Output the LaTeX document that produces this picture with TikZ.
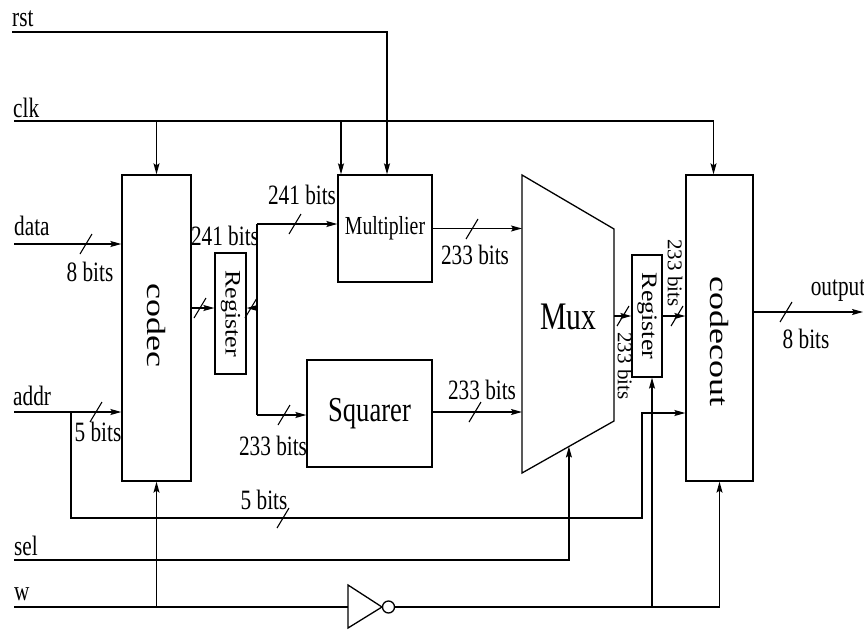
\documentclass[tikz,border=0pt]{standalone}
\usepackage{fontspec}
\setmainfont{Liberation Serif}[FakeStretch=0.76]
\newfontfamily\uprightserif{Liberation Serif}
\usetikzlibrary{arrows.meta, positioning}

% vertical text, squeezed across its lines
\newcommand{\vlabel}[2]{\rotatebox{-90}{\scalebox{1}[#1]{#2}}}
\newcommand{\bustick}[2]{\draw[busmark] (#1,#2) ++(-6,10) -- ++(12,-20);}

\begin{document}
\begin{tikzpicture}[
  x=1pt, y=-1pt,
  >={Stealth[length=11pt,width=6pt,inset=2pt]},
  blk/.style={draw, line width=1.3pt, inner sep=0pt},
  sig/.style={line width=1.3pt},
  busmark/.style={line width=1.1pt},
  lbl/.style={inner sep=0pt, font=\fontsize{28pt}{30pt}\selectfont},
  vlbl/.style={inner sep=0pt, font=\uprightserif\fontsize{21pt}{23pt}\selectfont},
  bigv/.style={inner sep=0pt, font=\uprightserif\fontsize{36pt}{38pt}\selectfont}
]
  \useasboundingbox (0,0) rectangle (864,629);

  % blocks
  \node[blk, minimum width=69pt, minimum height=306pt] (codec) at (156.5,328) {};
  \node[blk, minimum width=31pt, minimum height=121pt,
        font=\uprightserif\fontsize{26pt}{28pt}\selectfont] (regL) at (230.5,313.5) {\vlabel{0.85}{Register}};
  \node[blk, minimum width=94pt, minimum height=107pt,
        font=\fontsize{26pt}{28pt}\selectfont] (mult) at (385,228.5) {Multiplier};
  \node[blk, minimum width=125pt, minimum height=107pt,
        font=\fontsize{35pt}{37pt}\selectfont] (sqr) at (369.5,413.5) {Squarer};
  \node[blk, minimum width=30pt, minimum height=122pt,
        font=\uprightserif\fontsize{26pt}{28pt}\selectfont] (regR) at (647,316) {\vlabel{0.85}{Register}};
  \node[blk, minimum width=67pt, minimum height=306pt] (cout) at (719.5,328) {};

  \node[bigv, above=-40pt of codec.center] (codectxt) {\vlabel{0.73}{codec}};
  \node[bigv, below=-52pt of cout.center] (couttxt) {\vlabel{0.73}{codecout}};

  % mux
  \coordinate (muxTL) at (522,175);
  \coordinate (muxTR) at (614,229);
  \coordinate (muxBR) at (614,421);
  \coordinate (muxBL) at (522,473);
  \draw[sig] (muxTL) -- (muxTR) -- (muxBR) -- (muxBL) -- cycle;
  \node[inner sep=0pt, font=\fontsize{39pt}{41pt}\selectfont] (muxtxt) at (568,317) {Mux};
  \path (muxBL) -- (muxBR) coordinate[pos=0.51] (selup);

  % inverter
  \coordinate (invin) at (348,607);
  \coordinate (invout) at (394.5,607);
  \draw[sig] (348,585) -- (382,607) -- (348,628) -- cycle;
  \draw[sig] (388.5,607) circle (6pt);

  % inputs
  \coordinate (rstin)  at (12,32);
  \coordinate (clkin)  at (14,121);
  \coordinate (datain) at (14,244);
  \coordinate (addrin) at (14,412);
  \coordinate (selin)  at (14,560);
  \coordinate (win)    at (14,607);
  \node[lbl, anchor=base west] at (12,27)  {rst};
  \node[lbl, anchor=base west] at (13,117) {clk};
  \node[lbl, anchor=base west] at (14,235) {data};
  \node[lbl, anchor=base west] at (13,405) {addr};
  \node[lbl, anchor=base west] at (14,555) {sel};
  \node[lbl, anchor=base west] at (14,600) {w};

  % reset and clock
  \draw[sig, ->] (rstin) -| ([xshift=2pt]mult.north);
  \draw[sig, ->] (clkin) -| ([xshift=-6pt]cout.north);
  \draw[sig, ->] (clkin -| codec.north) -- (codec.north);
  \draw[sig, ->] ([xshift=-44pt]mult.north |- clkin) -- ([xshift=-44pt]mult.north);

  % data and addr
  \draw[sig, ->] (datain) -- (datain -| codec.west);
  \bustick{86}{244}
  \node[lbl] at (90,272) {8 bits};
  \draw[sig, ->] (addrin) -- (addrin -| codec.west);
  \bustick{96}{412}
  \node[lbl] at (98,432) {5 bits};
  \coordinate (addrtap) at (71,412);
  \coordinate (addrturn) at (642,518);
  \draw[sig, ->] (addrtap) |- (addrturn) |- ([yshift=-1pt]cout.west |- addrtap);
  \bustick{283}{518}
  \node[lbl] at (264,500) {5 bits};

  % codec to register, register to bus
  \coordinate (busT) at (257,224);
  \coordinate (busM) at (257,308);
  \coordinate (busB) at (257,415);
  \draw[sig, ->] (codec.east |- busM) -- (regL.west |- busM);
  \bustick{200}{308}
  \draw[sig, ->] (busM) -- (regL.east |- busM);
  \bustick{251}{308}
  \draw[sig] (busT) -- (busB);
  \node[lbl] at (225,236) {241 bits};
  \draw[sig, ->] (busT) -- (mult.west |- busT);
  \bustick{295}{224}
  \node[lbl] at (302,195) {241 bits};
  \draw[sig, ->] (busB) -- (sqr.west |- busB);
  \bustick{284}{415}
  \node[lbl] at (273,446) {233 bits};

  % into the mux
  \draw[sig, ->] (mult.east) -- (mult.east -| muxTL);
  \bustick{472}{229}
  \node[lbl] at (475,255) {233 bits};
  \draw[sig, ->] ([yshift=1.5pt]sqr.east) -- ([yshift=1.5pt]sqr.east -| muxTL);
  \bustick{475}{412}
  \node[lbl] at (482,390) {233 bits};
  \draw[sig, ->] (selin) -| (selup);

  % mux, register, codecout
  \draw[sig, ->] (muxBR |- regR.west) -- (regR.west);
  \bustick{623}{316}
  \node[vlbl] at (625,366) {\rotatebox{-90}{233 bits}};
  \draw[sig, ->] (regR.east) -- (regR.east -| cout.west);
  \bustick{677}{316}
  \node[vlbl] at (675,273) {\rotatebox{-90}{233 bits}};

  % write enable
  \draw[sig] (win) -- (invin);
  \draw[sig, ->] (invout) -| (cout.south);
  \draw[sig, ->] (win -| codec.south) -- (codec.south);
  \draw[sig, ->] ([xshift=5pt]regR.south |- win) -- ([xshift=5pt]regR.south);

  % output
  \coordinate (outend) at (863,312);
  \draw[sig, ->] (cout.east |- outend) -- (outend);
  \bustick{786}{312}
  \node[lbl] at (838,291) {output};
  \node[lbl] at (806,339) {8 bits};
\end{tikzpicture}
\end{document}
